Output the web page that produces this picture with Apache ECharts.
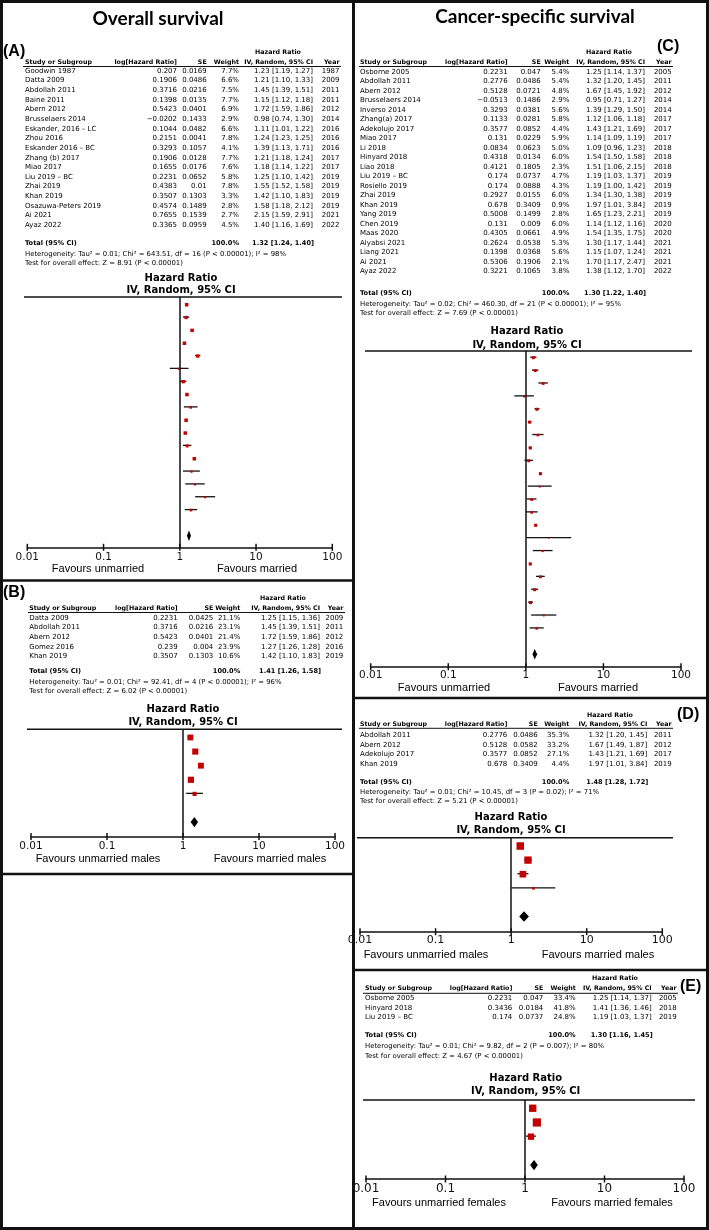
<!DOCTYPE html>
<html><head><meta charset="utf-8">
<script src="https://cdn.jsdelivr.net/npm/echarts/dist/echarts.min.js"></script>
<style>html,body{margin:0;padding:0;background:#fff}#c{width:709px;height:1230px}</style>
</head><body><div id="c"></div>
<script>
// ---------- DATA ----------
const tickVals = [0.01, 0.1, 1, 10, 100];
const tickLabels = ['0.01', '0.1', '1', '10', '100'];

// (A) Overall survival
const aStudy = ['Goodwin 1987','Datta 2009','Abdollah 2011','Baine 2011','Abern 2012','Brusselaers 2014','Eskander, 2016 – LC','Zhou 2016','Eskander 2016 – BC','Zhang (b) 2017','Miao 2017','Liu 2019 – BC','Zhai 2019','Khan 2019','Osazuwa-Peters 2019','Ai 2021','Ayaz 2022'];
const aLogHR = [0.207,0.1906,0.3716,0.1398,0.5423,-0.0202,0.1044,0.2151,0.3293,0.1906,0.1655,0.2231,0.4383,0.3507,0.4574,0.7655,0.3365];
const aSE = [0.0169,0.0486,0.0216,0.0135,0.0401,0.1433,0.0482,0.0041,0.1057,0.0128,0.0176,0.0652,0.01,0.1303,0.1489,0.1539,0.0959];
const aWeight = [7.7,6.6,7.5,7.7,6.9,2.9,6.6,7.8,4.1,7.7,7.6,5.8,7.8,3.3,2.8,2.7,4.5];
const aHR = [1.23,1.21,1.45,1.15,1.72,0.98,1.11,1.24,1.39,1.21,1.18,1.25,1.55,1.42,1.58,2.15,1.40];
const aLo = [1.19,1.10,1.39,1.12,1.59,0.74,1.01,1.23,1.13,1.18,1.14,1.10,1.52,1.10,1.18,1.59,1.16];
const aHi = [1.27,1.33,1.51,1.18,1.86,1.30,1.22,1.25,1.71,1.24,1.22,1.42,1.58,1.83,2.12,2.91,1.69];
const aYear = [1987,2009,2011,2011,2012,2014,2016,2016,2016,2017,2017,2019,2019,2019,2019,2021,2022];
const aTotal = [1.32, 1.24, 1.40];
const aHet = 'Heterogeneity: Tau² = 0.01; Chi² = 643.51, df = 16 (P < 0.00001); I² = 98%';
const aTest = 'Test for overall effect: Z = 8.91 (P < 0.00001)';

// (B) Overall survival, males
const bStudy = ['Datta 2009','Abdollah 2011','Abern 2012','Gomez 2016','Khan 2019'];
const bLogHR = [0.2231,0.3716,0.5423,0.239,0.3507];
const bSE = [0.0425,0.0216,0.0401,0.004,0.1303];
const bWeight = [21.1,23.1,21.4,23.9,10.6];
const bHR = [1.25,1.45,1.72,1.27,1.42];
const bLo = [1.15,1.39,1.59,1.26,1.10];
const bHi = [1.36,1.51,1.86,1.28,1.83];
const bYear = [2009,2011,2012,2016,2019];
const bTotal = [1.41, 1.26, 1.58];
const bHet = 'Heterogeneity: Tau² = 0.01; Chi² = 92.41, df = 4 (P < 0.00001); I² = 96%';
const bTest = 'Test for overall effect: Z = 6.02 (P < 0.00001)';

// (C) Cancer-specific survival
const cStudy = ['Osborne 2005','Abdollah 2011','Abern 2012','Brusselaers 2014','Inverso 2014','Zhang(a) 2017','Adekolujo 2017','Miao 2017','Li 2018','Hinyard 2018','Liao 2018','Liu 2019 – BC','Rosiello 2019','Zhai 2019','Khan 2019','Yang 2019','Chen 2019','Maas 2020','Alyabsi 2021','Liang 2021','Ai 2021','Ayaz 2022'];
const cLogHR = [0.2231,0.2776,0.5128,-0.0513,0.3293,0.1133,0.3577,0.131,0.0834,0.4318,0.4121,0.174,0.174,0.2927,0.678,0.5008,0.131,0.4305,0.2624,0.1398,0.5306,0.3221];
const cSE = [0.047,0.0486,0.0721,0.1486,0.0381,0.0281,0.0852,0.0229,0.0623,0.0134,0.1805,0.0737,0.0888,0.0155,0.3409,0.1499,0.009,0.0661,0.0538,0.0368,0.1906,0.1065];
const cWeight = [5.4,5.4,4.8,2.9,5.6,5.8,4.4,5.9,5.0,6.0,2.3,4.7,4.3,6.0,0.9,2.8,6.0,4.9,5.3,5.6,2.1,3.8];
const cHR = [1.25,1.32,1.67,0.95,1.39,1.12,1.43,1.14,1.09,1.54,1.51,1.19,1.19,1.34,1.97,1.65,1.14,1.54,1.30,1.15,1.70,1.38];
const cLo = [1.14,1.20,1.45,0.71,1.29,1.06,1.21,1.09,0.96,1.50,1.06,1.03,1.00,1.30,1.01,1.23,1.12,1.35,1.17,1.07,1.17,1.12];
const cHi = [1.37,1.45,1.92,1.27,1.50,1.18,1.69,1.19,1.23,1.58,2.15,1.37,1.42,1.38,3.84,2.21,1.16,1.75,1.44,1.24,2.47,1.70];
const cYear = [2005,2011,2012,2014,2014,2017,2017,2017,2018,2018,2018,2019,2019,2019,2019,2019,2020,2020,2021,2021,2021,2022];
const cTotal = [1.30, 1.22, 1.40];
const cHet = 'Heterogeneity: Tau² = 0.02; Chi² = 460.30, df = 21 (P < 0.00001); I² = 95%';
const cTest = 'Test for overall effect: Z = 7.69 (P < 0.00001)';

// (D) Cancer-specific survival, males
const dStudy = ['Abdollah 2011','Abern 2012','Adekolujo 2017','Khan 2019'];
const dLogHR = [0.2776,0.5128,0.3577,0.678];
const dSE = [0.0486,0.0582,0.0852,0.3409];
const dWeight = [35.3,33.2,27.1,4.4];
const dHR = [1.32,1.67,1.43,1.97];
const dLo = [1.20,1.49,1.21,1.01];
const dHi = [1.45,1.87,1.69,3.84];
const dYear = [2011,2012,2017,2019];
const dTotal = [1.48, 1.28, 1.72];
const dHet = 'Heterogeneity: Tau² = 0.01; Chi² = 10.45, df = 3 (P = 0.02); I² = 71%';
const dTest = 'Test for overall effect: Z = 5.21 (P < 0.00001)';

// (E) Cancer-specific survival, females
const eStudy = ['Osborne 2005','Hinyard 2018','Liu 2019 – BC'];
const eLogHR = [0.2231,0.3436,0.174];
const eSE = [0.047,0.0184,0.0737];
const eWeight = [33.4,41.8,24.8];
const eHR = [1.25,1.41,1.19];
const eLo = [1.14,1.36,1.03];
const eHi = [1.37,1.46,1.37];
const eYear = [2005,2018,2019];
const eTotal = [1.30, 1.16, 1.45];
const eHet = 'Heterogeneity: Tau² = 0.01; Chi² = 9.82, df = 2 (P = 0.007); I² = 80%';
const eTest = 'Test for overall effect: Z = 4.67 (P < 0.00001)';

const titles = ['Overall survival', 'Cancer-specific survival'];
const favA = ['Favours unmarried', 'Favours married'];
const favB = ['Favours unmarried males', 'Favours married males'];
const favE = ['Favours unmarried females', 'Favours married females'];

// ---------- LAYOUT ----------
const panels = [
  {tag:'(A)', study:aStudy, logHR:aLogHR, se:aSE, w:aWeight, hr:aHR, lo:aLo, hi:aHi, year:aYear, total:aTotal, het:aHet, test:aTest, fav:favA,
   L:{studyX:25, logR:177, seR:206.7, wR:239, ciR:313, yrR:339.5, hrSmallX:278, hrSmallY:52.5, headY:62, ulY:66.5, ulX1:23, ulX2:341, row0:71, rowStep:9.64, totY:243, hetY:254, testY:263.5, bigX:181, bigY1:278, bigY2:290.5, topY:297, topX1:24, topX2:342, gLeft:27.3, gWidth:305, gTop:297, gHeight:250.3, yMin:-0.6, yMax:18.9, dRow:18, favY:569, favL:98, favR:257, tagX:3, tagY:52, tickFont:10.5, labelMargin:4}},
  {tag:'(B)', study:bStudy, logHR:bLogHR, se:bSE, w:bWeight, hr:bHR, lo:bLo, hi:bHi, year:bYear, total:bTotal, het:bHet, test:bTest, fav:favB,
   L:{studyX:29.3, logR:177.7, seR:213.3, wR:240.3, ciR:320, yrR:343.3, hrSmallX:283, hrSmallY:598.5, headY:608.3, ulY:612.5, ulX1:28, ulX2:345, row0:618, rowStep:9.6, totY:671, hetY:682.3, testY:691.7, bigX:183, bigY1:709, bigY2:722.3, topY:729.3, topX1:27, topX2:342, gLeft:31, gWidth:304, gTop:729.3, gHeight:107.3, yMin:-0.58, yMax:7.03, dRow:6, favY:859, favL:98, favR:270, tagX:3, tagY:593, tickFont:10.5, labelMargin:4}},
  {tag:'(C)', study:cStudy, logHR:cLogHR, se:cSE, w:cWeight, hr:cHR, lo:cLo, hi:cHi, year:cYear, total:cTotal, het:cHet, test:cTest, fav:favA,
   L:{studyX:360, logR:507.7, seR:540.7, wR:569.3, ciR:645, yrR:671.7, hrSmallX:609, hrSmallY:52, headY:62, ulY:66.5, ulX1:359, ulX2:673, row0:72, rowStep:9.5, totY:293.7, hetY:304.3, testY:313.3, bigX:527, bigY1:331.7, bigY2:345, topY:351, topX1:365, topX2:692, gLeft:370.7, gWidth:310.3, gTop:351, gHeight:315.7, yMin:-0.52, yMax:23.97, dRow:23, favY:688.3, favL:444, favR:598, tagX:657, tagY:47, tickFont:10.5, labelMargin:3}},
  {tag:'(D)', study:dStudy, logHR:dLogHR, se:dSE, w:dWeight, hr:dHR, lo:dLo, hi:dHi, year:dYear, total:dTotal, het:dHet, test:dTest, fav:favB,
   L:{studyX:360, logR:507.3, seR:537.7, wR:569.3, ciR:647.3, yrR:671.7, hrSmallX:610, hrSmallY:715, headY:724, ulY:728.3, ulX1:359, ulX2:673, row0:735.3, rowStep:9.6, totY:782, hetY:792.7, testY:801.7, bigX:511, bigY1:817.3, bigY2:830.7, topY:837.7, topX1:357, topX2:673, gLeft:360, gWidth:302.3, gTop:837.7, gHeight:94, yMin:-0.59, yMax:6.08, dRow:5, favY:955, favL:426, favR:598, tagX:677, tagY:715, tickFont:11, labelMargin:3}},
  {tag:'(E)', study:eStudy, logHR:eLogHR, se:eSE, w:eWeight, hr:eHR, lo:eLo, hi:eHi, year:eYear, total:eTotal, het:eHet, test:eTest, fav:favE,
   L:{studyX:365, logR:512.3, seR:543.3, wR:575.7, ciR:651.7, yrR:676.7, hrSmallX:615, hrSmallY:978.3, headY:988.3, ulY:993.3, ulX1:363, ulX2:678, row0:998.5, rowStep:9.5, totY:1035, hetY:1046.7, testY:1056.7, bigX:525.7, bigY1:1078.3, bigY2:1091.7, topY:1100, topX1:363, topX2:695, gLeft:366, gWidth:318, gTop:1100, gHeight:79, yMin:-0.58, yMax:4.98, dRow:4, favY:1203.3, favL:439, favR:612, tagX:680, tagY:987, tickFont:12, labelMargin:4}}
];

const TF = 'DejaVu Sans';
const INK = '#000';
const graphics = [];
function text(x, y, s, size, o) {
  o = o || {};
  const fam = o.family || TF;
  graphics.push({type:'text', x:x, y:y, silent:true, z:10,
    style:{text:s, fill:o.color || INK, font:(o.bold ? 'bold ' : '') + size + 'px "' + fam + '"',
      align:o.align || 'left', verticalAlign:'middle', textAlign:o.align || 'left', textVerticalAlign:'middle'}});
}
function line(x1, y1, x2, y2, w) {
  graphics.push({type:'line', silent:true, z:10, shape:{x1:x1, y1:y1, x2:x2, y2:y2}, style:{stroke:'#111', lineWidth:w}});
}
function fmtNum(v) { return String(v).replace('-', '−'); }
function fmtCI(h, l, u) { return h.toFixed(2) + ' [' + l.toFixed(2) + ', ' + u.toFixed(2) + ']'; }

// frame
line(0, 1.5, 709, 1.5, 3); line(0, 1228.5, 709, 1228.5, 3);
line(1.5, 0, 1.5, 1230, 3); line(707.5, 0, 707.5, 1230, 3);
line(353.5, 0, 353.5, 1230, 3);
line(0, 580.5, 353, 580.5, 2.5); line(0, 874, 353, 874, 2.5);
line(353, 698, 709, 698, 2.5); line(353, 970, 709, 970, 2.5);

text(158, 19, titles[0], 19, {bold:true, family:'Lato', align:'center', color:'#000'});
text(535, 17, titles[1], 19, {bold:true, family:'Lato', align:'center', color:'#000'});

const grids = [], xAxes = [], yAxes = [], series = [];
const FS = 7, FSB = 6.3, FSH = 6.9;

panels.forEach(function (p, k) {
  const L = p.L;
  text(L.tagX, L.tagY, p.tag, 16, {bold:true, family:'Liberation Sans', color:'#000'});
  // table header
  text(L.hrSmallX, L.hrSmallY, 'Hazard Ratio', FSB, {bold:true, align:'center'});
  text(L.studyX, L.headY, 'Study or Subgroup', FSB, {bold:true});
  text(L.logR, L.headY, 'log[Hazard Ratio]', FSB, {bold:true, align:'right'});
  text(L.seR, L.headY, 'SE', FSB, {bold:true, align:'right'});
  text(L.wR, L.headY, 'Weight', FSB, {bold:true, align:'right'});
  text(L.ciR, L.headY, 'IV, Random, 95% CI', FSB, {bold:true, align:'right'});
  text(L.yrR, L.headY, 'Year', FSB, {bold:true, align:'right'});
  line(L.ulX1, L.ulY, L.ulX2, L.ulY, 1);
  // rows
  p.study.forEach(function (s, i) {
    const y = L.row0 + i * L.rowStep;
    text(L.studyX, y, s, FS);
    text(L.logR, y, fmtNum(p.logHR[i]), FS, {align:'right'});
    text(L.seR, y, fmtNum(p.se[i]), FS, {align:'right'});
    text(L.wR, y, p.w[i].toFixed(1) + '%', FS, {align:'right'});
    text(L.ciR, y, fmtCI(p.hr[i], p.lo[i], p.hi[i]), FS, {align:'right'});
    text(L.yrR, y, String(p.year[i]), FS, {align:'right'});
  });
  text(L.studyX, L.totY, 'Total (95% CI)', 6.6, {bold:true});
  text(L.wR, L.totY, '100.0%', 6.6, {bold:true, align:'right'});
  text(L.ciR + 1, L.totY, fmtCI(p.total[0], p.total[1], p.total[2]), 6.6, {bold:true, align:'right'});
  text(L.studyX, L.hetY, p.het, FSH);
  text(L.studyX, L.testY, p.test, FSH);
  // plot header
  text(L.bigX, L.bigY1, 'Hazard Ratio', 10, {bold:true, align:'center'});
  text(L.bigX, L.bigY2, 'IV, Random, 95% CI', 10, {bold:true, align:'center'});
  line(L.topX1, L.topY, L.topX2, L.topY, 1.5);
  text(L.favL, L.favY, p.fav[0], 11, {family:'Liberation Sans', align:'center'});
  text(L.favR, L.favY, p.fav[1], 11, {family:'Liberation Sans', align:'center'});

  grids.push({left:L.gLeft, width:L.gWidth, top:L.gTop, height:L.gHeight, containLabel:false});
  xAxes.push({type:'log', logBase:10, gridIndex:k, min:0.01, max:100, position:'bottom',
    axisLine:{show:true, onZero:false, lineStyle:{color:'#111', width:1.5}},
    axisTick:{show:false}, splitLine:{show:false},
    axisLabel:{show:true, margin:L.labelMargin, color:'#111', fontSize:L.tickFont, fontFamily:TF,
      formatter:function (v) { const idx = tickVals.findIndex(function (t) { return Math.abs(Math.log10(t) - Math.log10(v)) < 1e-6; }); return idx >= 0 ? tickLabels[idx] : ''; }}});
  yAxes.push({type:'value', gridIndex:k, inverse:true, min:L.yMin, max:L.yMax, show:false});

  // CI whiskers
  series.push({type:'custom', xAxisIndex:k, yAxisIndex:k, silent:true, clip:false, z:2,
    encode:{x:[0, 1], y:2},
    data:p.lo.map(function (l, i) { return [l, p.hi[i], i]; }),
    renderItem:function (params, api) {
      const a = api.coord([api.value(0), api.value(2)]);
      const b = api.coord([api.value(1), api.value(2)]);
      return {type:'line', shape:{x1:a[0], y1:a[1] - 0.5, x2:b[0], y2:b[1] - 0.5}, style:{stroke:'#111', lineWidth:1.3}};
    }});
  // squares
  series.push({type:'scatter', xAxisIndex:k, yAxisIndex:k, silent:true, z:3, symbol:'rect',
    data:p.hr.map(function (h, i) { return [h, i, p.w[i]]; }),
    symbolSize:function (v) { return 1.27 * Math.sqrt(v[2]); },
    itemStyle:{color:'#c40000', opacity:1},
    markLine:{silent:true, symbol:['none', 'none'], label:{show:false}, animation:false,
      lineStyle:{color:'#111', width:1.5, type:'solid'}, emphasis:{disabled:true},
      data:[{xAxis:1}]}});
  // diamond
  series.push({type:'custom', xAxisIndex:k, yAxisIndex:k, silent:true, clip:false, z:4,
    encode:{x:[0, 1, 2], y:3},
    data:[[p.total[1], p.total[2], p.total[0], L.dRow]],
    renderItem:function (params, api) {
      const l = api.coord([api.value(0), api.value(3)]);
      const r = api.coord([api.value(1), api.value(3)]);
      const c = api.coord([api.value(2), api.value(3)]);
      const h = 5.2;
      return {type:'polygon', shape:{points:[[l[0], l[1]], [c[0], c[1] - h], [r[0], r[1]], [c[0], c[1] + h]]}, style:{fill:'#000'}};
    }});
  // crossing axis ticks
  series.push({type:'custom', xAxisIndex:k, yAxisIndex:k, silent:true, clip:false, z:5,
    encode:{x:0, y:1},
    data:tickVals.map(function (t) { return [t, L.yMax]; }),
    renderItem:function (params, api) {
      const q = api.coord([api.value(0), api.value(1)]);
      return {type:'line', shape:{x1:q[0], y1:q[1] - 3.5, x2:q[0], y2:q[1] + 3.5}, style:{stroke:'#111', lineWidth:1.5}};
    }});
});

const chart = echarts.init(document.getElementById('c'), null, {renderer:'canvas', width:709, height:1230});
chart.setOption({
  animation:false,
  backgroundColor:'#ffffff',
  textStyle:{fontFamily:TF},
  grid:grids, xAxis:xAxes, yAxis:yAxes, series:series,
  graphic:{elements:graphics}
});
</script></body></html>
